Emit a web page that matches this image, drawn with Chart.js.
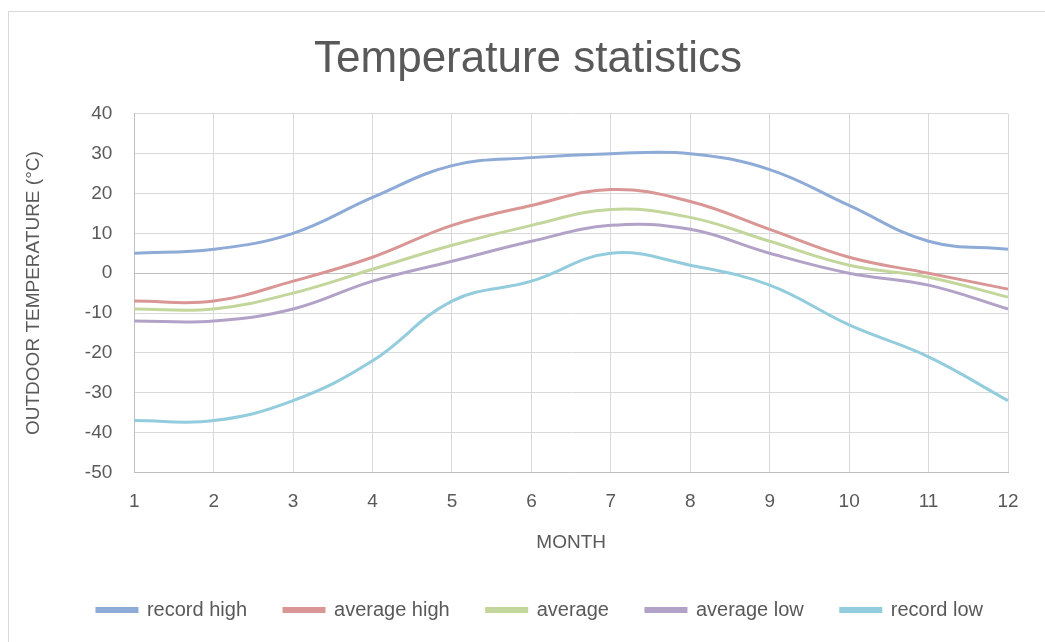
<!DOCTYPE html>
<html>
<head>
<meta charset="utf-8">
<script src="https://cdn.jsdelivr.net/npm/chart.js@4"></script>
<style>
  html, body { margin: 0; padding: 0; background: #fff; }
  #frame { position: absolute; left: 8px; top: 11px; width: 1045px; height: 640px; border: 1px solid #d9d9d9; box-sizing: border-box; }
  #wrap { position: absolute; left: 0; top: 0; width: 1045px; height: 642px; }
</style>
</head>
<body>
<div id="frame"></div>
<div id="wrap"><canvas id="chart-temps"></canvas></div>
<script>
const months = ['1', '2', '3', '4', '5', '6', '7', '8', '9', '10', '11', '12'];
const recordHigh = [5, 6, 10, 19, 27, 29, 30, 30, 26, 17, 8, 6];
const averageHigh = [-7, -7, -2, 4, 12, 17, 21, 18, 11, 4, 0, -4];
const average = [-9, -9, -5, 1, 7, 12, 16, 14, 8, 2, -1, -6];
const averageLow = [-12, -12, -9, -2, 3, 8, 12, 11, 5, 0, -3, -9];
const recordLow = [-37, -37, -32, -22, -7, -2, 5, 2, -3, -13, -21, -32];

const textColor = `#595959`;
const gridColor = `#d9d9d9`;
const font = `"Liberation Sans", Arial, sans-serif`;

const line = (label, data, color) => ({
  label,
  data,
  borderColor: color,
  backgroundColor: color,
  borderWidth: 3,
  pointRadius: 0,
  tension: 0.4,
  fill: false
});

// title and legend sit centred on the whole frame, not on the plot
const recentre = {
  id: `recentre`,
  afterLayout(chart) {
    chart.titleBlock.left += 15;
    chart.titleBlock.right += 15;
    chart.legend.left += 27;
    chart.legend.right += 27;
  }
};

const temps = document.getElementById('chart-temps');
new Chart(temps, {
  type: `line`,
  data: {
    labels: months,
    datasets: [
      line(`record high`, recordHigh, `#8eaad6`),
      line(`average high`, averageHigh, `#d99694`),
      line(`average`, average, `#c3d69b`),
      line(`average low`, averageLow, `#b3a2c7`),
      line(`record low`, recordLow, `#93cddd`)
    ]
  },
  options: {
    responsive: true,
    maintainAspectRatio: false,
    animation: false,
    layout: { padding: { left: 18, right: 37, top: 33, bottom: 12 } },
    plugins: {
      title: {
        display: true,
        text: `Temperature statistics`,
        color: textColor,
        font: { family: font, size: 44, weight: `normal` },
        padding: { top: 0, bottom: 28 }
      },
      legend: {
        position: `bottom`,
        labels: {
          color: textColor,
          font: { family: font, size: 20 },
          boxWidth: 40,
          boxHeight: 3,
          padding: 37
        }
      },
      tooltip: { enabled: false }
    },
    scales: {
      x: {
        offset: false,
        grid: { color: gridColor, drawTicks: false },
        border: { color: `#bfbfbf` },
        ticks: { color: textColor, font: { family: font, size: 19 }, padding: 18, maxRotation: 0 },
        title: { display: true, text: `MONTH`, color: textColor, font: { family: font, size: 19 }, padding: { top: 0, bottom: 9 } }
      },
      y: {
        min: -50,
        max: 40,
        grid: {
          color: (ctx) => (ctx.tick && ctx.tick.value === 0 ? `#bfbfbf` : gridColor),
          drawTicks: false
        },
        border: { color: `#bfbfbf` },
        ticks: { stepSize: 10, color: textColor, font: { family: font, size: 19 }, padding: 22 },
        title: { display: true, text: `OUTDOOR TEMPERATURE (°C)`, color: textColor, font: { family: font, size: 19 }, padding: { bottom: 18 } }
      }
    }
  },
  plugins: [recentre]
});
</script>
</body>
</html>
